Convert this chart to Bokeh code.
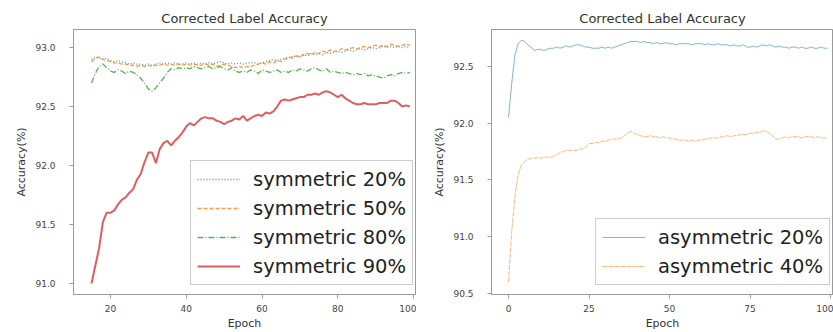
from bokeh.plotting import figure
from bokeh.layouts import row
from bokeh.models import Legend, LegendItem, FixedTicker, Range1d, CustomJSTickFormatter
from bokeh.embed import file_html
from bokeh.resources import INLINE

# ---------------- data: left panel (symmetric noise) ----------------
epochs_sym = list(range(15, 100))

sym20 = [92.90, 92.92, 92.91, 92.90, 92.91, 92.89, 92.88, 92.89, 92.88, 92.87,
         92.86, 92.87, 92.86, 92.86, 92.85, 92.86, 92.85, 92.86, 92.87, 92.86,
         92.87, 92.86, 92.87, 92.86, 92.86, 92.87, 92.86, 92.87, 92.86, 92.87,
         92.86, 92.87, 92.86, 92.87, 92.88, 92.87, 92.86, 92.87, 92.86, 92.87,
         92.86, 92.87, 92.87, 92.87, 92.86, 92.87, 92.88, 92.89, 92.90, 92.89,
         92.90, 92.91, 92.92, 92.91, 92.93, 92.92, 92.94, 92.93, 92.95, 92.94,
         92.95, 92.94, 92.96, 92.95, 92.96, 92.97, 92.96, 92.97, 92.98, 92.97,
         92.98, 92.99, 92.98, 92.99, 93.00, 92.99, 93.00, 93.01, 93.00, 93.01,
         93.00, 93.01, 93.00, 93.01, 93.00]

sym50 = [92.88, 92.91, 92.92, 92.90, 92.89, 92.88, 92.87, 92.87, 92.86, 92.86,
         92.85, 92.85, 92.84, 92.85, 92.84, 92.85, 92.84, 92.85, 92.85, 92.86,
         92.85, 92.86, 92.85, 92.86, 92.85, 92.86, 92.85, 92.86, 92.85, 92.85,
         92.86, 92.85, 92.86, 92.84, 92.85, 92.86, 92.85, 92.84, 92.83, 92.84,
         92.83, 92.84, 92.84, 92.85, 92.86, 92.87, 92.86, 92.88, 92.87, 92.89,
         92.88, 92.90, 92.91, 92.92, 92.93, 92.92, 92.94, 92.95, 92.94, 92.96,
         92.95, 92.97, 92.96, 92.98, 92.97, 92.97, 92.99, 92.98, 92.99, 93.00,
         92.99, 93.00, 93.01, 93.00, 93.01, 93.02, 93.01, 93.02, 93.01, 93.03,
         93.02, 93.01, 93.02, 93.03, 93.02]

sym80 = [92.70, 92.78, 92.84, 92.86, 92.83, 92.80, 92.79, 92.81, 92.80, 92.78,
         92.80, 92.79, 92.77, 92.74, 92.70, 92.65, 92.63, 92.66, 92.70, 92.74,
         92.79, 92.82, 92.81, 92.83, 92.82, 92.83, 92.82, 92.84, 92.83, 92.82,
         92.83, 92.84, 92.82, 92.83, 92.84, 92.82, 92.81, 92.83, 92.80, 92.79,
         92.80, 92.79, 92.81, 92.80, 92.78, 92.81, 92.80, 92.79, 92.80, 92.81,
         92.79, 92.80, 92.79, 92.81, 92.80, 92.82, 92.81, 92.80, 92.82, 92.83,
         92.81, 92.80, 92.82, 92.79, 92.80, 92.79, 92.78, 92.79, 92.78, 92.77,
         92.78, 92.77, 92.78, 92.76, 92.77, 92.76, 92.75, 92.74, 92.76, 92.77,
         92.76, 92.78, 92.79, 92.78, 92.79]

sym90 = [91.00, 91.15, 91.30, 91.52, 91.60, 91.60, 91.62, 91.67, 91.71, 91.73,
         91.77, 91.80, 91.88, 91.93, 92.03, 92.11, 92.11, 92.02, 92.14, 92.19,
         92.21, 92.17, 92.21, 92.24, 92.28, 92.33, 92.36, 92.34, 92.37, 92.40,
         92.41, 92.40, 92.40, 92.38, 92.37, 92.35, 92.37, 92.38, 92.40, 92.39,
         92.42, 92.38, 92.40, 92.42, 92.43, 92.42, 92.45, 92.44, 92.46, 92.50,
         92.55, 92.56, 92.55, 92.56, 92.57, 92.58, 92.58, 92.60, 92.60, 92.61,
         92.60, 92.62, 92.63, 92.62, 92.60, 92.58, 92.60, 92.57, 92.55, 92.53,
         92.52, 92.52, 92.53, 92.52, 92.52, 92.52, 92.53, 92.53, 92.53, 92.55,
         92.55, 92.53, 92.50, 92.51, 92.50]

# ---------------- data: right panel (asymmetric noise) ----------------
epochs_asym = list(range(0, 100))

asym20 = [92.05, 92.35, 92.60, 92.70, 92.73, 92.72, 92.69, 92.67, 92.64, 92.65,
          92.65, 92.64, 92.65, 92.66, 92.66, 92.67, 92.66, 92.67, 92.68, 92.67,
          92.68, 92.69, 92.69, 92.68, 92.67, 92.67, 92.66, 92.66, 92.66, 92.67,
          92.66, 92.67, 92.66, 92.67, 92.68, 92.69, 92.70, 92.71, 92.72, 92.72,
          92.72, 92.71, 92.72, 92.71, 92.71, 92.70, 92.71, 92.70, 92.70, 92.71,
          92.70, 92.70, 92.69, 92.70, 92.70, 92.70, 92.70, 92.69, 92.70, 92.70,
          92.70, 92.69, 92.70, 92.69, 92.69, 92.70, 92.69, 92.69, 92.69, 92.68,
          92.69, 92.68, 92.68, 92.69, 92.67, 92.67, 92.68, 92.67, 92.68, 92.69,
          92.68, 92.69, 92.68, 92.67, 92.68, 92.67, 92.67, 92.66, 92.67, 92.67,
          92.66, 92.67, 92.66, 92.66, 92.67, 92.66, 92.66, 92.67, 92.66, 92.66]

asym40 = [90.60, 91.05, 91.35, 91.55, 91.63, 91.66, 91.68, 91.69, 91.69, 91.70,
          91.69, 91.70, 91.70, 91.70, 91.71, 91.72, 91.74, 91.75, 91.76, 91.76,
          91.76, 91.76, 91.77, 91.77, 91.79, 91.82, 91.82, 91.83, 91.83, 91.84,
          91.84, 91.85, 91.86, 91.86, 91.86, 91.87, 91.89, 91.91, 91.93, 91.91,
          91.90, 91.89, 91.88, 91.88, 91.89, 91.88, 91.88, 91.87, 91.88, 91.87,
          91.87, 91.86, 91.86, 91.85, 91.85, 91.85, 91.84, 91.85, 91.84, 91.85,
          91.85, 91.86, 91.86, 91.87, 91.87, 91.87, 91.88, 91.88, 91.89, 91.88,
          91.89, 91.89, 91.90, 91.90, 91.90, 91.91, 91.91, 91.92, 91.92, 91.93,
          91.93, 91.91, 91.89, 91.86, 91.86, 91.87, 91.88, 91.87, 91.88, 91.88,
          91.88, 91.87, 91.88, 91.88, 91.88, 91.87, 91.88, 91.87, 91.87, 91.87]

left_xticks = [20, 40, 60, 80, 100]
left_yticks = [91.0, 91.5, 92.0, 92.5, 93.0]
right_xticks = [0, 25, 50, 75, 100]
right_yticks = [90.5, 91.0, 91.5, 92.0, 92.5]

TITLE = "Corrected Label Accuracy"
FONT = "DejaVu Sans"


def style(p, xticks, yticks):
    p.title.text_font = FONT
    p.title.text_font_size = "13px"
    p.title.text_font_style = "normal"
    p.title.align = "center"
    p.title.text_color = "#333333"
    p.title.standoff = 8
    p.grid.visible = False
    p.outline_line_color = "#9a9a9a"
    p.outline_line_width = 1
    for ax in (p.xaxis[0], p.yaxis[0]):
        ax.axis_line_color = "#9a9a9a"
        ax.major_tick_line_color = "#9a9a9a"
        ax.major_tick_out = 4
        ax.major_tick_in = 0
        ax.minor_tick_line_color = None
        ax.major_label_text_font = FONT
        ax.major_label_text_font_size = "9px"
        ax.major_label_text_color = "#444444"
        ax.axis_label_text_font = FONT
        ax.axis_label_text_font_size = "11px"
        ax.axis_label_text_font_style = "normal"
        ax.axis_label_text_color = "#333333"
    p.xaxis[0].ticker = FixedTicker(ticks=xticks)
    p.yaxis[0].ticker = FixedTicker(ticks=yticks)
    p.yaxis[0].formatter = CustomJSTickFormatter(code="return tick.toFixed(1);")
    p.xaxis[0].axis_label = "Epoch"
    p.yaxis[0].axis_label = "Accuracy(%)"
    p.xaxis[0].major_label_standoff = 6
    p.xaxis[0].axis_label_standoff = 2
    p.yaxis[0].major_label_standoff = 14
    p.yaxis[0].axis_label_standoff = 4


def make_legend(items, loc):
    return Legend(items=items, location=loc, label_text_font=FONT,
                  label_text_font_size="19.5px", label_text_color="#222222",
                  glyph_width=43, glyph_height=24, label_height=24,
                  spacing=5, padding=6, label_standoff=13,
                  border_line_color="#cccccc", border_line_alpha=1,
                  background_fill_alpha=0.9)


# ---------------- left figure ----------------
p1 = figure(width=416, height=332, output_backend="svg", toolbar_location=None,
            title=TITLE, x_range=Range1d(10.25, 100.5), y_range=Range1d(90.907, 93.153),
            min_border_left=73, min_border_right=1, min_border_top=29, min_border_bottom=38)
style(p1, left_xticks, left_yticks)

r20 = p1.line(epochs_sym, sym20, line_color="#1f77b4", line_width=1.3, line_dash="1 2", line_alpha=0.8)
r50 = p1.line(epochs_sym, sym50, line_color="#ff7f0e", line_width=1.3, line_dash="4 2", line_alpha=0.8)
r80 = p1.line(epochs_sym, sym80, line_color="#2ca02c", line_width=1.3, line_dash="6 2 1 2", line_alpha=0.8)
r90 = p1.line(epochs_sym, sym90, line_color="#d62728", line_width=2.0, line_alpha=0.75)

p1.add_layout(make_legend([LegendItem(label="symmetric 20%", renderers=[r20]),
                           LegendItem(label="symmetric 50%", renderers=[r50]),
                           LegendItem(label="symmetric 80%", renderers=[r80]),
                           LegendItem(label="symmetric 90%", renderers=[r90])],
                          (117, 9)), "center")

# ---------------- right figure ----------------
p2 = figure(width=417, height=332, output_backend="svg", toolbar_location=None,
            title=TITLE, x_range=Range1d(-5.28, 100.93), y_range=Range1d(90.49, 92.825),
            min_border_left=75, min_border_right=0, min_border_top=29, min_border_bottom=38)
style(p2, right_xticks, right_yticks)

a20 = p2.line(epochs_asym, asym20, line_color="#1f77b4", line_width=1.0, line_alpha=0.55)
a40 = p2.line(epochs_asym, asym40, line_color="#ff7f0e", line_width=1.0, line_alpha=0.55, line_dash="5 1")

p2.add_layout(make_legend([LegendItem(label="asymmetric 20%", renderers=[a20]),
                           LegendItem(label="asymmetric 40%", renderers=[a40])],
                          (104, 9)), "center")

layout = row(p1, p2, spacing=0)
open("out.html", "w").write(file_html(layout, INLINE))
